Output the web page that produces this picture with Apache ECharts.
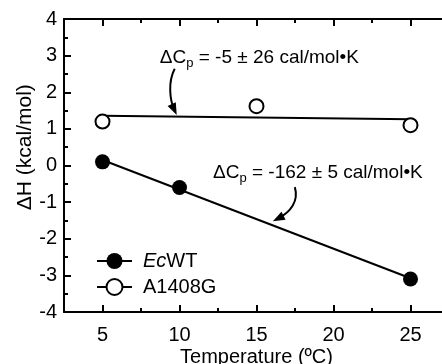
<!DOCTYPE html>
<html><head><meta charset="utf-8">
<script src="https://cdn.jsdelivr.net/npm/echarts@6/dist/echarts.min.js"></script>
<style>html,body{margin:0;padding:0;background:#fff}#c{width:442px;height:364px}</style>
</head><body><div id="c"></div>
<script>
// ---- data ----
const ecwtTemps = [5, 10, 25];
const ecwtDH = [0.1, -0.6, -3.1];
const a1408gTemps = [5, 15, 25];
const a1408gDH = [1.2, 1.62, 1.1];
const fitTemps = [5, 25];
const ecwtFit = [0.15, -3.08];
const a1408gFit = [1.36, 1.26];
const xMajorTicks = [5, 10, 15, 20, 25];
const xMinorTicks = [7.5, 12.5, 17.5, 22.5];
const seriesNames = ['EcWT', 'A1408G'];
const xTitle = 'Temperature (ºC)';
const yTitle = 'ΔH (kcal/mol)';
const annText1 = ['ΔC', 'p', ' = -5 ± 26 cal/mol•K'];
const annText2 = ['ΔC', 'p', ' = -162 ± 5 cal/mol•K'];
// annotation anchors in data coordinates: text [x,y], arrow bezier [p0,cp1,cp2,p3]
const ann1Pos = [8.72, 2.95];
const ann1Arrow = [[9.69, 2.64], [9.24, 2.28], [9.37, 1.79], [9.82, 1.38]];
const ann2Pos = [12.18, -0.2];
const ann2Arrow = [[17.49, -0.59], [17.75, -0.97], [17.23, -1.27], [16.06, -1.52]];

const FONT = '"Liberation Sans", Arial, Helvetica, sans-serif';
const FS = 20;
const AFS = 19;
const zip = (a, b) => a.map((v, i) => [v, b[i]]);

const baseX = {
  type: 'value', min: 2.5, max: 27.5, splitLine: { show: false },
  axisLine: { show: true, onZero: false, lineStyle: { color: '#000', width: 2 } },
};
const option = {
  animation: false,
  backgroundColor: '#fff',
  grid: { left: 64, top: 19, right: -7, bottom: 52, containLabel: false, outerBoundsMode: 'none' },
  xAxis: [
    Object.assign({}, baseX, {
      position: 'bottom',
      axisTick: { show: true, inside: true, length: 7, customValues: xMajorTicks, lineStyle: { color: '#000', width: 2 } },
      axisLabel: { show: true, customValues: xMajorTicks, margin: 13, fontSize: FS, fontFamily: FONT, color: '#000' }
    }),
    Object.assign({}, baseX, {
      position: 'bottom', axisLine: { show: false, onZero: false },
      axisTick: { show: true, inside: true, length: 4, customValues: xMinorTicks, lineStyle: { color: '#000', width: 2 } },
      axisLabel: { show: false }
    }),
    Object.assign({}, baseX, {
      position: 'top',
      axisTick: { show: true, inside: true, length: 7, customValues: xMajorTicks, lineStyle: { color: '#000', width: 2 } },
      axisLabel: { show: false }
    }),
    Object.assign({}, baseX, {
      position: 'top', axisLine: { show: false, onZero: false },
      axisTick: { show: true, inside: true, length: 4, customValues: xMinorTicks, lineStyle: { color: '#000', width: 2 } },
      axisLabel: { show: false }
    })
  ],
  yAxis: [
    {
      type: 'value', min: -4, max: 4, interval: 1, position: 'left', splitLine: { show: false },
      axisLine: { show: true, onZero: false, lineStyle: { color: '#000', width: 2 } },
      axisTick: { show: true, inside: true, length: 7, lineStyle: { color: '#000', width: 2 } },
      minorTick: { show: true, splitNumber: 2, length: 4, lineStyle: { color: '#000', width: 2 } },
      axisLabel: { margin: 7, fontSize: FS, fontFamily: FONT, color: '#000' }
    },
    {
      type: 'value', min: -4, max: 4, interval: 1, position: 'right', splitLine: { show: false },
      axisLine: { show: true, onZero: false, lineStyle: { color: '#000', width: 2 } },
      axisTick: { show: true, inside: true, length: 7, lineStyle: { color: '#000', width: 2 } },
      minorTick: { show: true, splitNumber: 2, length: 4, lineStyle: { color: '#000', width: 2 } },
      axisLabel: { show: false }
    }
  ],
  legend: {
    orient: 'vertical', left: 96, top: 251, padding: 0,
    itemWidth: 35, itemHeight: 20, itemGap: 6,
    data: seriesNames,
    lineStyle: { width: 2, color: '#000', opacity: 1 },
    formatter: n => n === 'EcWT' ? '{i|Ec}WT' : n,
    textStyle: { fontSize: FS, fontFamily: FONT, color: '#000', padding: [0, 0, 0, 6],
      rich: { i: { fontStyle: 'italic', fontSize: FS, fontFamily: FONT, color: '#000' } } }
  },
  series: [
    { name: 'fitWT', type: 'line', data: zip(fitTemps, ecwtFit), symbol: 'none', xAxisIndex: 0, yAxisIndex: 0,
      lineStyle: { color: '#000', width: 2 }, z: 1 },
    { name: 'fitA', type: 'line', data: zip(fitTemps, a1408gFit), symbol: 'none', xAxisIndex: 0, yAxisIndex: 0,
      lineStyle: { color: '#000', width: 2 }, z: 1 },
    { name: seriesNames[0], type: 'line', data: zip(ecwtTemps, ecwtDH), xAxisIndex: 0, yAxisIndex: 0,
      symbol: 'circle', symbolSize: 15, lineStyle: { opacity: 0 }, itemStyle: { color: '#000' }, z: 3 },
    { name: seriesNames[1], type: 'line', data: zip(a1408gTemps, a1408gDH), xAxisIndex: 0, yAxisIndex: 0,
      symbol: 'circle', symbolSize: 14, lineStyle: { opacity: 0 },
      itemStyle: { color: '#fff', borderColor: '#000', borderWidth: 2 }, z: 3 }
  ]
};

const chart = echarts.init(document.getElementById('c'));
chart.setOption(option);

const px = p => chart.convertToPixel({ xAxisIndex: 0, yAxisIndex: 0 }, p);
const graphics = [];

// axis titles placed relative to the axes
const bottomLeft = px([2.5, -4]);
const xMid = px([15, -4]);
graphics.push({
  type: 'text', x: xMid[0], y: bottomLeft[1] + 45, z: 10,
  style: { text: xTitle, align: 'center', verticalAlign: 'middle', fill: '#000', fontFamily: FONT, fontSize: FS }
});
const yMid = px([2.5, 0.5]);
graphics.push({
  type: 'text', x: bottomLeft[0] - 39, y: yMid[1], rotation: Math.PI / 2, z: 10,
  style: { text: yTitle, align: 'center', verticalAlign: 'middle', fill: '#000', fontFamily: FONT, fontSize: 21 }
});

function addAnnotation(parts, pos, arrow) {
  const t = px(pos);
  graphics.push({
    type: 'text', x: t[0], y: t[1], z: 10,
    style: {
      text: '{m|' + parts[0] + '}{s|' + parts[1] + '}{m|' + parts[2] + '}',
      align: 'left', verticalAlign: 'middle', fill: '#000', fontFamily: FONT, fontSize: AFS,
      rich: {
        m: { fontSize: AFS, fontFamily: FONT, fill: '#000', lineHeight: 24, verticalAlign: 'middle' },
        s: { fontSize: 13, fontFamily: FONT, fill: '#000', lineHeight: 14, verticalAlign: 'bottom' }
      }
    }
  });
  const p0 = px(arrow[0]), c1 = px(arrow[1]), c2 = px(arrow[2]), p3 = px(arrow[3]);
  let dx = p3[0] - c2[0], dy = p3[1] - c2[1];
  const L = Math.hypot(dx, dy); dx /= L; dy /= L;
  const len = 12, hw = 4.5;
  const bx = p3[0] - dx * len, by = p3[1] - dy * len;
  const ex = p3[0] - dx * 6, ey = p3[1] - dy * 6;
  graphics.push({
    type: 'bezierCurve', z: 10,
    shape: { x1: p0[0], y1: p0[1], cpx1: c1[0], cpy1: c1[1], cpx2: c2[0], cpy2: c2[1], x2: ex, y2: ey },
    style: { stroke: '#000', lineWidth: 2, fill: null }
  });
  graphics.push({
    type: 'polygon', z: 10,
    shape: { points: [[p3[0], p3[1]], [bx - dy * hw, by + dx * hw], [bx + dy * hw, by - dx * hw]] },
    style: { fill: '#000', stroke: null }
  });
}
addAnnotation(annText1, ann1Pos, ann1Arrow);
addAnnotation(annText2, ann2Pos, ann2Arrow);
chart.setOption({ graphic: graphics });
</script>
</body></html>
